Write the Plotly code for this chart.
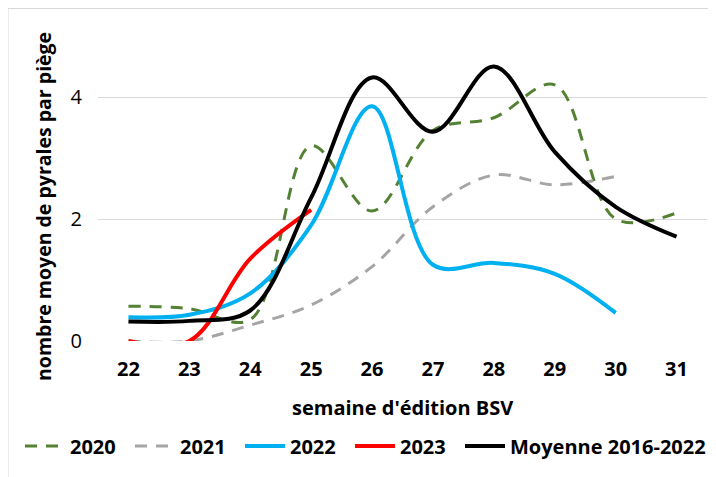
import plotly.graph_objects as go

weeks = ["22", "23", "24", "25", "26", "27", "28", "29", "30", "31"]
y2020 = [0.57, 0.53, 0.35, 3.2, 2.13, 3.45, 3.66, 4.2, 2.0, 2.1]
y2021 = [0.0, 0.0, 0.26, 0.59, 1.22, 2.2, 2.72, 2.56, 2.7, None]
y2022 = [0.39, 0.43, 0.78, 1.9, 3.85, 1.25, 1.28, 1.1, 0.46, None]
y2023 = [0.0, 0.0, 1.35, 2.15, None, None, None, None, None, None]
ymoy = [0.32, 0.33, 0.5, 2.35, 4.32, 3.43, 4.5, 3.1, 2.2, 1.71]

FONT = "Open Sans, sans-serif"
FS = 20

series = [
    ("2020", y2020, "#548235", 3, "12px,9px", "legend"),
    ("2021", y2021, "#A5A5A5", 3, "12px,9px", "legend"),
    ("2022", y2022, "#00B0F0", 4, "solid", "legend"),
    ("2023", y2023, "#FF0000", 4, "solid", "legend"),
    ("Moyenne 2016-2022", ymoy, "#000000", 4, "solid", "legend2"),
]

fig = go.Figure()
for name, ys, color, w, dash, lg in series:
    fig.add_trace(go.Scatter(
        x=weeks, y=ys, name="<b>" + name + "</b>", mode="lines", legend=lg,
        line=dict(color=color, width=w, dash=dash, shape="spline", smoothing=1.0),
        connectgaps=False,
    ))

W, H = 708, 469
L, R, T, B = 90, 9, 28, 136
PW, PH = W - L - R, H - T - B
LEG_Y = (PH + T - 438) / PH

fig.update_layout(
    width=W, height=H,
    margin=dict(l=L, r=R, t=T, b=B, autoexpand=False),
    paper_bgcolor="white", plot_bgcolor="white",
    font=dict(family=FONT, size=FS, color="black"),
    showlegend=True,
    legend=dict(orientation="h", x=(12 - L) / PW, xanchor="left",
                y=LEG_Y, yanchor="middle",
                font=dict(family=FONT, size=FS, color="black"),
                itemwidth=40, entrywidth=55, tracegroupgap=0, bgcolor="rgba(0,0,0,0)"),
    legend2=dict(orientation="h", x=(452 - L) / PW, xanchor="left",
                 y=LEG_Y, yanchor="middle",
                 font=dict(family=FONT, size=FS, color="black"),
                 itemwidth=40, tracegroupgap=0, bgcolor="rgba(0,0,0,0)"),
    xaxis=dict(
        type="category", range=[-0.5, 9.5], showgrid=False, zeroline=False,
        showline=False, ticks="", tickfont=dict(family=FONT, size=FS, color="black"),
        tickprefix="<b>", ticksuffix="</b>", ticklabelstandoff=14,
    ),
    yaxis=dict(
        range=[0, 5], tickvals=[0, 2, 4], showgrid=True, gridcolor="#D9D9D9", gridwidth=1,
        zeroline=False, showline=False, ticks="",
        tickfont=dict(family=FONT, size=FS, color="black"),
        tickprefix="<b>", ticksuffix="</b>", ticklabelstandoff=15,
    ),
)

fig.add_annotation(text="<b>semaine d'édition BSV</b>", xref="paper", yref="paper",
                   x=(394 - L) / PW, y=(PH + T - 399) / PH, xanchor="center", yanchor="middle",
                   showarrow=False, font=dict(family=FONT, size=FS, color="black"))
fig.add_annotation(text="<b>nombre moyen de pyrales par piège</b>", xref="paper", yref="paper",
                   x=(35 - L) / PW, y=(PH + T - 199) / PH, xanchor="center", yanchor="middle",
                   textangle=-90, showarrow=False, font=dict(family=FONT, size=19.5, color="black"))

fig.add_shape(type="rect", xref="paper", yref="paper",
              x0=(0 - L) / PW, x1=(W + 20 - L) / PW,
              y0=(PH + T - (H + 20)) / PH, y1=(PH + T - 0.5) / PH,
              line=dict(color="#D9D9D9", width=1), layer="below")

fig.write_html("out.html")
